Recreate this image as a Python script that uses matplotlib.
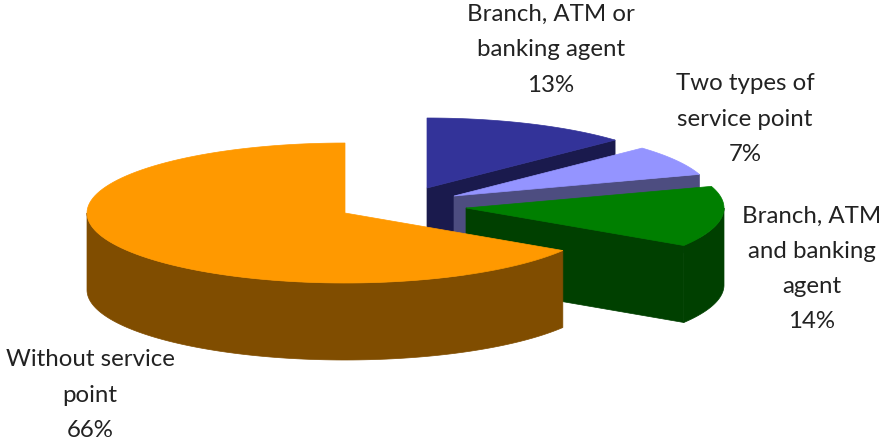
import numpy as np
import matplotlib
matplotlib.use("Agg")
import matplotlib.pyplot as plt
from matplotlib.patches import Polygon

# Share of localities by type of service point, clockwise from 12 o'clock
labels = ["Branch, ATM or\nbanking agent\n13%",
          "Two types of\nservice point\n7%",
          "Branch, ATM\nand banking\nagent\n14%",
          "Without service\npoint\n66%"]
values = [13, 7, 14, 66]
top_colors = ["#333399", "#9494FF", "#007F00", "#FF9900"]
side_colors = ["#1A1A4D", "#4D4D80", "#004000", "#804D00"]

# Exploded centre of each slice and where its label sits, in pixels
centers = [(427, 188), (454, 196), (466, 208), (345, 213)]
label_pos = [(551, 50), (745, 119), (812, 269), (90, 395)]

RX, RY, DEPTH = 258, 70, 77

fig = plt.figure(figsize=(8.81, 4.45), dpi=100)
ax = fig.add_axes([0, 0, 1, 1])
ax.set_xlim(0, 881)
ax.set_ylim(445, 0)
ax.axis("off")


def rim(c, a0, a1):
    # angles run clockwise from 12 o'clock, in degrees
    t = np.radians(np.linspace(a0, a1, 120))
    return np.column_stack([c[0] + RX * np.sin(t), c[1] - RY * np.cos(t)])


starts = np.cumsum([0] + values[:-1]) * 3.6
ends = np.cumsum(values) * 3.6

for c, a0, a1, top, side in zip(centers, starts, ends, top_colors, side_colors):
    drop = np.array([0, DEPTH])
    # flat cut face on the trailing edge
    if 0 < a1 < 180:
        edge = rim(c, a1, a1)[0]
        face = [c, edge, edge + drop, np.array(c) + drop]
        ax.add_patch(Polygon(face, closed=True, fc=side, ec=side, lw=0.5))
    # outer wall, only the part facing the viewer
    f0, f1 = max(a0, 90), min(a1, 270)
    if f0 < f1:
        arc = rim(c, f0, f1)
        wall = np.vstack([arc, arc[::-1] + drop])
        ax.add_patch(Polygon(wall, closed=True, fc=side, ec=side, lw=0.5))
    surface = np.vstack([[c], rim(c, a0, a1)])
    ax.add_patch(Polygon(surface, closed=True, fc=top, ec=top, lw=0.5))

for text, (x, y) in zip(labels, label_pos):
    ax.text(x, y, text, ha="center", va="center", fontsize=17.3,
            family="Lato", color="#222222", linespacing=1.84)

fig.savefig("out.png", dpi=100)
